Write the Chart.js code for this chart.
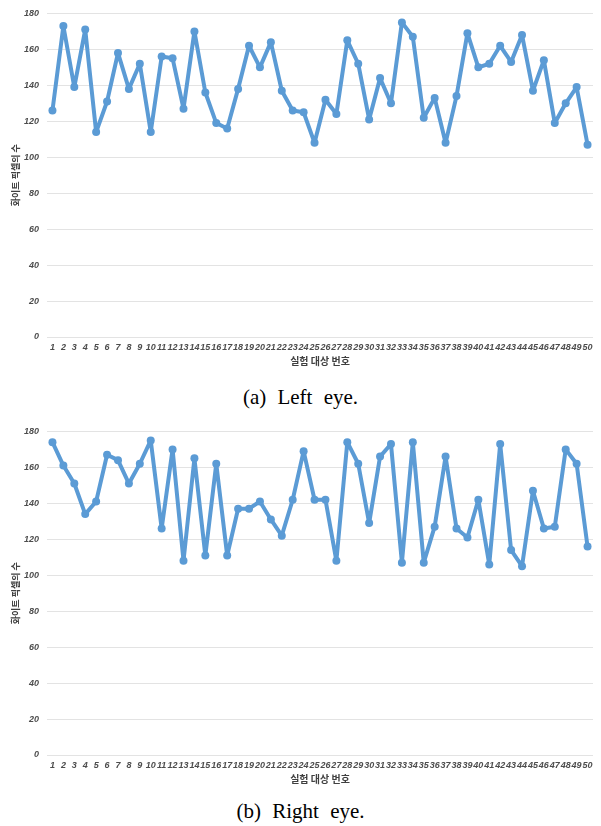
<!DOCTYPE html>
<html>
<head>
<meta charset="utf-8">
<script src="https://cdn.jsdelivr.net/npm/chart.js@4.4.0/dist/chart.umd.min.js"></script>
<style>
  body { margin: 0; background: #fff; width: 601px; height: 826px; position: relative; overflow: hidden; }
  .box { position: absolute; left: 0; width: 601px; height: 372px; }
  .cap { position: absolute; left: 0; width: 601px; text-align: center;
         font-family: "Liberation Serif", "DejaVu Serif", serif; font-size: 21px;
         word-spacing: 6px; color: #000; }
</style>
</head>
<body>
<div class="box" style="top:0"><canvas id="leftChart"></canvas></div>
<div class="cap" style="top:385px">(a) Left eye.</div>
<div class="box" style="top:418px"><canvas id="rightChart"></canvas></div>
<div class="cap" style="top:799px">(b) Right eye.</div>
<script>
// 실험 대상 번호 1..50
const subjects = ['1','2','3','4','5','6','7','8','9','10','11','12','13','14','15','16','17','18','19','20',
  '21','22','23','24','25','26','27','28','29','30','31','32','33','34','35','36','37','38','39','40',
  '41','42','43','44','45','46','47','48','49','50'];

// 화이트 픽셀의 수 - left eye
const leftEye = [126, 173, 139, 171, 114, 131, 158, 138, 152, 114,
  156, 155, 127, 170, 136, 119, 116, 138, 162, 150,
  164, 137, 126, 125, 108, 132, 124, 165, 152, 121,
  144, 130, 175, 167, 122, 133, 108, 134, 169, 150,
  152, 162, 153, 168, 137, 154, 119, 130, 139, 107];

// right eye
const rightEye = [174, 161, 151, 134, 141, 167, 164, 151, 162, 175,
  126, 170, 108, 165, 111, 162, 111, 137, 137, 141,
  131, 122, 142, 169, 142, 142, 108, 174, 162, 129,
  166, 173, 107, 174, 107, 127, 166, 126, 121, 142,
  106, 173, 114, 105, 147, 126, 127, 170, 162, 116];

const yTicks = [0, 20, 40, 60, 80, 100, 120, 140, 160, 180];

const blue = '#5b9bd5';
const tickFont = { family: 'Liberation Sans', size: 9, style: 'italic', weight: 'bold' };
const titleFont = { family: 'Noto Sans CJK KR', size: 9, weight: 'bold' };

function makeChart(id, values) {
  return new Chart(document.getElementById(id), {
    type: 'line',
    data: {
      labels: subjects,
      datasets: [{
        data: values,
        borderColor: blue,
        backgroundColor: blue,
        borderWidth: 4,
        borderJoinStyle: 'round',
        borderCapStyle: 'round',
        pointRadius: 4,
        pointBorderWidth: 0,
        pointBackgroundColor: blue,
        tension: 0
      }]
    },
    options: {
      responsive: true,
      maintainAspectRatio: false,
      animation: false,
      layout: { padding: { top: 12, right: 8, bottom: 5, left: 0 } },
      plugins: { legend: { display: false }, tooltip: { enabled: false } },
      scales: {
        x: {
          offset: true,
          grid: { display: false, drawTicks: false },
          border: { display: false },
          ticks: { autoSkip: false, maxRotation: 0, minRotation: 0, padding: 5,
                   color: '#4d4d4d', font: tickFont },
          title: { display: true, text: '실험 대상 번호', color: '#404040',
                   font: { family: 'Noto Sans CJK KR', size: 10, weight: 'bold' },
                   padding: { top: 0, bottom: 0 } },
          afterFit: s => { s.height = 30; }
        },
        y: {
          min: 0,
          max: 180,
          afterBuildTicks: s => { s.ticks = yTicks.map(v => ({ value: v })); },
          grid: { color: '#e3e3e3', lineWidth: 1, drawTicks: false },
          border: { display: false },
          ticks: { padding: 8, color: '#4d4d4d', font: tickFont },
          title: { display: true, text: '화이트 픽셀의 수', color: '#404040',
                   font: titleFont, padding: { top: 10, bottom: 0 } },
          afterFit: s => { s.width = 47; }
        }
      }
    }
  });
}

makeChart('leftChart', leftEye);
makeChart('rightChart', rightEye);
</script>
</body>
</html>
